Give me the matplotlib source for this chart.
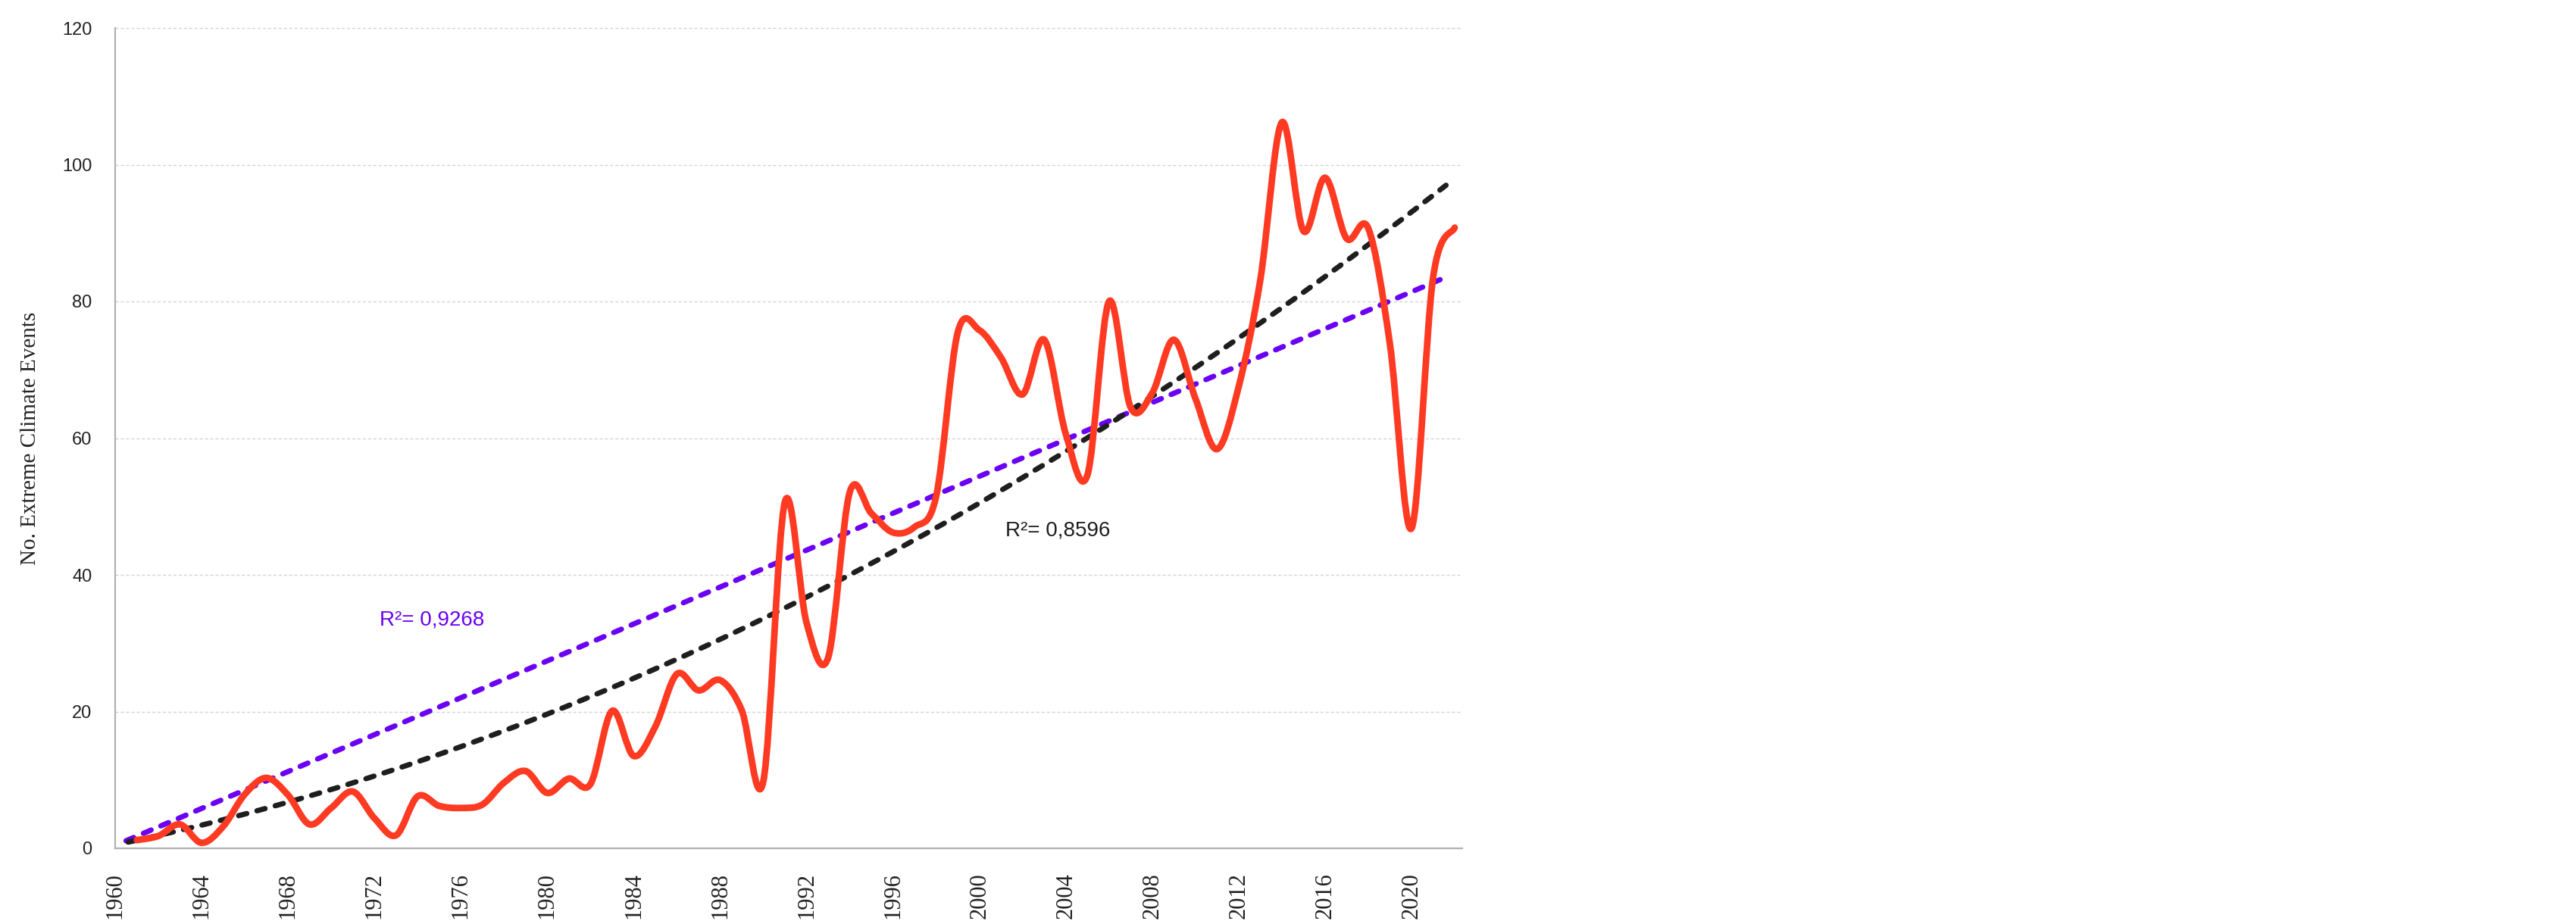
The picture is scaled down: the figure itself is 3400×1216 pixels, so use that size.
import numpy as np
import matplotlib
matplotlib.use("Agg")
import matplotlib.pyplot as plt
from matplotlib.path import Path
from matplotlib.patches import PathPatch

plt.rcParams['font.family'] = ['Liberation Sans', 'DejaVu Sans']

# yearly count of extreme climate events
years = list(range(1961, 2023))
events = [1.2, 1.8, 3.5, 0.8, 3.2, 7.9, 10.3, 7.8, 3.5, 5.9,
          8.3, 4.4, 1.9, 7.6, 6.2, 5.9, 6.4, 9.6, 11.3, 8.1,
          10.2, 9.4, 20.1, 13.5, 17.8, 25.5, 23.1, 24.6, 20.2, 9.8,
          50.7, 33.0, 27.9, 52.1, 49.0, 46.2, 47.0, 51.5, 75.5, 75.8,
          71.8, 66.4, 74.4, 60.6, 54.6, 80.0, 64.5, 66.6, 74.4, 65.8,
          58.4, 67.5, 83.1, 106.2, 90.3, 98.1, 89.2, 90.7, 73.8, 46.8,
          83.5, 90.8]

tick_years = list(range(1960, 2021, 4))
y_ticks = [0, 20, 40, 60, 80, 100, 120]

# trendlines as drawn on the chart (read at a few points)
linear_x = [1960.5, 2021.7]
linear_y = [1.1, 83.7]
poly_x = [1960.6, 1990.0, 2021.6]
poly_y = [0.9, 33.6, 97.0]
r2_linear = "R\u00b2= 0,9268"
r2_poly = "R\u00b2= 0,8596"

red = '#ff3a22'
purple = '#6a00f4'
dark = '#1e1e1e'


def smooth_path(xs, ys):
    # Catmull-Rom style bezier, like a spreadsheet "smoothed line"
    pts = np.column_stack([xs, ys]).astype(float)
    verts = [pts[0]]
    codes = [Path.MOVETO]
    n = len(pts)
    for i in range(n - 1):
        p0 = pts[i - 1] if i > 0 else pts[i]
        p1 = pts[i]
        p2 = pts[i + 1]
        p3 = pts[i + 2] if i + 2 < n else pts[i + 1]
        c1 = p1 + (p2 - p0) / 6.0
        c2 = p2 - (p3 - p1) / 6.0
        verts += [c1, c2, p2]
        codes += [Path.CURVE4] * 3
    return Path(verts, codes)


fig = plt.figure(figsize=(34, 12.16), dpi=100)
ax = fig.add_axes([152 / 3400, 96 / 1216, 1778 / 3400, 1083 / 1216])

x = np.array(years, dtype=float)
y = np.array(events, dtype=float)

# linear trend (purple) and 2nd order polynomial trend (black)
ax.plot(linear_x, linear_y, color=purple, lw=5, dashes=(1.6, 2.0),
        dash_capstyle='round', zorder=3)
poly = np.polyfit(poly_x, poly_y, 2)
xt = np.linspace(poly_x[0], poly_x[-1], 200)
ax.plot(xt, np.polyval(poly, xt), color=dark, lw=5, dashes=(1.6, 2.0),
        dash_capstyle='round', zorder=3)

patch = PathPatch(smooth_path(x, y), facecolor='none', edgecolor=red, lw=6.3,
                  capstyle='round', joinstyle='round', zorder=4)
ax.add_patch(patch)

ax.text(1972.25, 33.4, r2_linear, color=purple, fontsize=20, va='center', ha='left')
ax.text(2001.2, 46.5, r2_poly, color=dark, fontsize=20, va='center', ha='left')

ax.set_xlim(1960, 2022.35)
ax.set_ylim(0, 120)
ax.set_xticks(tick_years)
ax.set_xticklabels([str(t) for t in tick_years], rotation=90,
                   family=['Liberation Serif', 'DejaVu Serif'], fontsize=22)
ax.set_yticks(y_ticks)
ax.set_yticklabels([str(t) for t in y_ticks], fontsize=17)
ax.tick_params(axis='x', length=0, pad=23, colors='#222222')
ax.tick_params(axis='y', length=0, pad=22, colors='#222222')

ax.yaxis.grid(True, color='#d4d4d4', linestyle=(0, (3, 2)), linewidth=1.0)
for gl in ax.get_ygridlines():
    gl.set_clip_on(False)
ax.set_axisbelow(True)

for s in ['top', 'right']:
    ax.spines[s].set_visible(False)
for s in ['left', 'bottom']:
    ax.spines[s].set_color('#b0b0b0')
    ax.spines[s].set_linewidth(1.6)

ax.set_ylabel("No. Extreme Climate Events", family=['Liberation Serif', 'DejaVu Serif'],
              fontsize=21, color='#222222', va='center')
ax.yaxis.set_label_coords(-0.063, 0.5)

fig.savefig("out.png", dpi=100, facecolor='white')
